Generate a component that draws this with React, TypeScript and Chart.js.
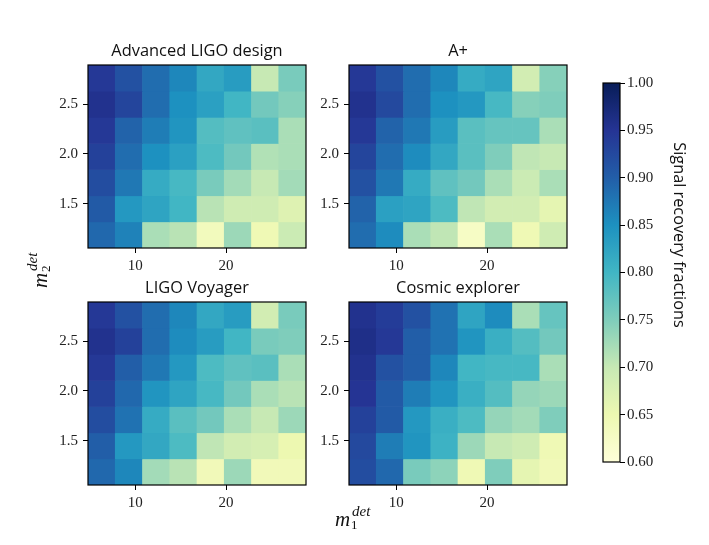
import { useEffect, useRef } from 'react';
import Chart from 'chart.js/auto';

// m1 cell centres and m2 cell edges of the grid
const m1Centers = [6.3, 9.3, 12.3, 15.3, 18.3, 21.3, 24.3, 27.3];
const m2Edges = [2.894, 2.631, 2.368, 2.105, 1.843, 1.58, 1.318, 1.055];
const xTicks = [10, 20];
const yTicks = [1.5, 2.0, 2.5];

// rows are listed top to bottom, as in the picture
const advancedLigo = [
  [0.945, 0.915, 0.885, 0.86, 0.82, 0.835, 0.7, 0.755],
  [0.955, 0.93, 0.885, 0.85, 0.83, 0.8, 0.76, 0.745],
  [0.945, 0.895, 0.87, 0.845, 0.785, 0.775, 0.78, 0.72],
  [0.935, 0.885, 0.85, 0.83, 0.79, 0.76, 0.715, 0.72],
  [0.92, 0.875, 0.815, 0.795, 0.755, 0.725, 0.7, 0.725],
  [0.905, 0.84, 0.825, 0.8, 0.71, 0.69, 0.69, 0.67],
  [0.89, 0.865, 0.72, 0.71, 0.635, 0.73, 0.645, 0.695],
];
const aPlus = [
  [0.945, 0.915, 0.885, 0.86, 0.815, 0.825, 0.685, 0.745],
  [0.955, 0.925, 0.885, 0.85, 0.84, 0.795, 0.745, 0.75],
  [0.945, 0.895, 0.875, 0.835, 0.78, 0.77, 0.77, 0.72],
  [0.93, 0.885, 0.855, 0.82, 0.78, 0.75, 0.705, 0.7],
  [0.915, 0.875, 0.815, 0.775, 0.76, 0.72, 0.695, 0.72],
  [0.895, 0.83, 0.825, 0.79, 0.705, 0.685, 0.685, 0.66],
  [0.885, 0.855, 0.72, 0.705, 0.625, 0.72, 0.645, 0.69],
];
const ligoVoyager = [
  [0.945, 0.915, 0.885, 0.86, 0.82, 0.835, 0.685, 0.755],
  [0.955, 0.935, 0.885, 0.855, 0.835, 0.8, 0.755, 0.75],
  [0.945, 0.9, 0.875, 0.84, 0.79, 0.775, 0.78, 0.72],
  [0.935, 0.89, 0.845, 0.825, 0.795, 0.76, 0.72, 0.71],
  [0.92, 0.88, 0.815, 0.78, 0.76, 0.72, 0.7, 0.73],
  [0.9, 0.84, 0.82, 0.79, 0.705, 0.685, 0.68, 0.65],
  [0.89, 0.86, 0.725, 0.71, 0.64, 0.73, 0.64, 0.64],
];
const cosmicExplorer = [
  [0.955, 0.94, 0.915, 0.88, 0.825, 0.855, 0.72, 0.77],
  [0.96, 0.945, 0.9, 0.88, 0.845, 0.81, 0.785, 0.76],
  [0.955, 0.915, 0.9, 0.86, 0.8, 0.795, 0.795, 0.72],
  [0.95, 0.905, 0.87, 0.845, 0.81, 0.785, 0.735, 0.73],
  [0.935, 0.905, 0.84, 0.81, 0.79, 0.735, 0.725, 0.75],
  [0.925, 0.87, 0.845, 0.805, 0.73, 0.7, 0.69, 0.645],
  [0.92, 0.89, 0.755, 0.74, 0.645, 0.75, 0.66, 0.64],
];

const colorbarTicks = [0.6, 0.65, 0.7, 0.75, 0.8, 0.85, 0.9, 0.95, 1.0];
// YlGnBu, one colour per colorbar tick
const ylGnBu = ['#ffffd9', '#edf8b1', '#c7e9b4', '#7fcdbb', '#41b6c4', '#1d91c0', '#225ea8', '#253494', '#081d58'];

const SERIF = '"Liberation Serif", serif';
const SANS = '"Open Sans", sans-serif';

const hexToRgb = (hex: string) => [1, 3, 5].map(i => parseInt(hex.slice(i, i + 2), 16));

const valueColor = (v: number) => {
  const t = Math.min(Math.max((v - 0.6) / 0.4, 0), 1) * (ylGnBu.length - 1);
  const i = Math.min(Math.floor(t), ylGnBu.length - 2);
  const a = hexToRgb(ylGnBu[i]);
  const b = hexToRgb(ylGnBu[i + 1]);
  const c = a.map((x, k) => Math.round(x + (b[k] - x) * (t - i)));
  return `rgb(${c[0]}, ${c[1]}, ${c[2]})`;
};

// black box round the plot area
const framePlugin = {
  id: 'frame',
  afterDraw(chart: any) {
    const { ctx, chartArea: a } = chart;
    ctx.save();
    ctx.strokeStyle = '#000';
    ctx.lineWidth = 1.2;
    ctx.strokeRect(a.left, a.top, a.right - a.left, a.bottom - a.top);
    ctx.restore();
  },
};

const tickStyle = { color: '#222', font: { family: SERIF, size: 15 } };
const tickGrid = { drawOnChartArea: false, tickLength: 5, tickColor: '#000', offset: false };

interface HeatmapProps {
  title: string;
  rows: number[][];
  left: number;
  top: number;
}

const Heatmap = ({ title, rows, left, top }: HeatmapProps) => {
  const canvasRef = useRef<HTMLCanvasElement | null>(null);

  useEffect(() => {
    if (!canvasRef.current) return;
    const chart = new Chart(canvasRef.current, {
      type: 'bar',
      data: {
        datasets: rows.map((row, r) => ({
          data: row.map((_, c) => ({ x: m1Centers[c], y: [m2Edges[r + 1], m2Edges[r]] })) as any,
          backgroundColor: row.map(valueColor),
          borderWidth: 0,
          barPercentage: 1,
          categoryPercentage: 1,
          grouped: false,
        })),
      },
      options: {
        animation: false,
        responsive: false,
        plugins: {
          legend: { display: false },
          tooltip: { enabled: false },
          title: {
            display: true,
            text: title,
            color: '#111',
            font: { family: SANS, size: 16.4, weight: 'normal', lineHeight: '16px' },
            padding: { top: 0, bottom: 6 },
          },
        },
        scales: {
          x: {
            type: 'linear',
            min: 4.8,
            max: 28.8,
            offset: false,
            grid: tickGrid,
            border: { display: false },
            afterBuildTicks: (s: any) => { s.ticks = xTicks.map(value => ({ value })); },
            afterFit: (s: any) => { s.height = 30; },
            ticks: { ...tickStyle, autoSkip: false, maxRotation: 0, padding: 4, callback: (v: any) => String(v) },
          },
          y: {
            type: 'linear',
            min: 1.055,
            max: 2.894,
            grid: tickGrid,
            border: { display: false },
            afterBuildTicks: (s: any) => { s.ticks = yTicks.map(value => ({ value })); },
            afterFit: (s: any) => { s.width = 48; },
            ticks: { ...tickStyle, autoSkip: false, padding: 5, callback: (v: any) => Number(v).toFixed(1) },
          },
          // empty axis on the right so the title centres over the plot
          spacer: {
            type: 'linear',
            position: 'right',
            grid: { display: false },
            border: { display: false },
            ticks: { display: false },
            afterFit: (s: any) => { s.width = 48; },
          },
        },
      },
      plugins: [framePlugin],
    } as any);
    return () => chart.destroy();
  }, [title, rows]);

  return (
    <canvas
      ref={canvasRef}
      width={314}
      height={235}
      style={{ position: 'absolute', left: left - 48, top: top - 22, width: 314, height: 235 }}
    />
  );
};

const Colorbar = () => {
  const canvasRef = useRef<HTMLCanvasElement | null>(null);

  useEffect(() => {
    if (!canvasRef.current) return;
    const chart = new Chart(canvasRef.current, {
      type: 'bar',
      data: {
        labels: ['fraction'],
        datasets: [{
          data: [[0.6, 1.0]] as any,
          backgroundColor: (ctx: any) => {
            const a = ctx.chart.chartArea;
            if (!a) return '#fff';
            const g = ctx.chart.ctx.createLinearGradient(0, a.bottom, 0, a.top);
            ylGnBu.forEach((c, i) => g.addColorStop(i / (ylGnBu.length - 1), c));
            return g;
          },
          borderWidth: 0,
          barPercentage: 1,
          categoryPercentage: 1,
        }],
      },
      options: {
        animation: false,
        responsive: false,
        layout: { padding: { top: 10, bottom: 10, left: 1, right: 0 } },
        plugins: { legend: { display: false }, tooltip: { enabled: false } },
        scales: {
          x: { display: false },
          y: {
            position: 'right',
            min: 0.6,
            max: 1.0,
            grid: tickGrid,
            border: { display: false },
            afterBuildTicks: (s: any) => { s.ticks = colorbarTicks.map(value => ({ value })); },
            afterFit: (s: any) => { s.width = 52; },
            ticks: { ...tickStyle, autoSkip: false, padding: 2, callback: (v: any) => Number(v).toFixed(2) },
          },
        },
      },
      plugins: [framePlugin],
    } as any);
    return () => chart.destroy();
  }, []);

  return (
    <canvas
      ref={canvasRef}
      width={70}
      height={401}
      style={{ position: 'absolute', left: 602, top: 72, width: 70, height: 401 }}
    />
  );
};

// m with "det" above and the index below, like the mathtext label
const MassLabel = ({ index, style }: { index: string; style: React.CSSProperties }) => (
  <div style={{ position: 'absolute', fontFamily: SERIF, color: '#111', width: 40, height: 24, ...style }}>
    <span style={{ position: 'absolute', left: 0, top: 1, fontSize: 21, fontStyle: 'italic' }}>m</span>
    <span style={{ position: 'absolute', left: 17, top: -3, fontSize: 15, fontStyle: 'italic' }}>det</span>
    <span style={{ position: 'absolute', left: 16, top: 11, fontSize: 13 }}>{index}</span>
  </div>
);

const App = () => (
  <div style={{ position: 'absolute', left: 0, top: 0, width: 709, height: 545, overflow: 'hidden', background: '#fff' }}>
    <Heatmap title="Advanced LIGO design" rows={advancedLigo} left={88} top={65} />
    <Heatmap title="A+" rows={aPlus} left={349} top={65} />
    <Heatmap title="LIGO Voyager" rows={ligoVoyager} left={88} top={302} />
    <Heatmap title="Cosmic explorer" rows={cosmicExplorer} left={349} top={302} />
    <Colorbar />
    <MassLabel index="1" style={{ left: 335, top: 506 }} />
    <MassLabel index="2" style={{ left: 19, top: 256, transform: 'rotate(-90deg)' }} />
    <div
      style={{
        position: 'absolute',
        left: 580,
        top: 224,
        width: 200,
        height: 22,
        lineHeight: '22px',
        textAlign: 'center',
        fontFamily: SANS,
        fontSize: 16.3,
        color: '#111',
        transform: 'rotate(90deg)',
      }}
    >
      Signal recovery fractions
    </div>
  </div>
);

export default App;
